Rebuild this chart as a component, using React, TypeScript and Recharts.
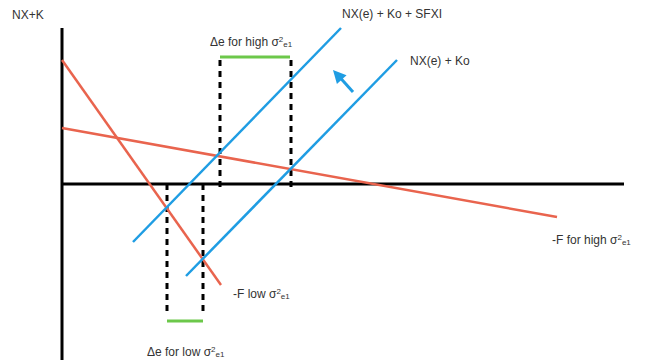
import { ComposedChart, Line, Scatter, XAxis, YAxis, ReferenceLine } from 'recharts'

// units: e on the x axis, NX+K on the y axis, origin where the axes cross
const fLow = [
  { x: 0, y: 12.4 },
  { x: 15.9, y: -10.1 },
]
const fHigh = [
  { x: 0, y: 5.6 },
  { x: 49.5, y: -3.3 },
]
const nxKoSfxi = [
  { x: 7.1, y: -5.8 },
  { x: 27.9, y: 15.6 },
]
const nxKo = [
  { x: 12.4, y: -9.2 },
  { x: 33.5, y: 12.4 },
]
const shiftArrow = [
  { x: 29.1, y: 9.2 },
  { x: 27.4, y: 11.1 },
]
const arrowTip = [{ x: 27.1, y: 11.4 }]

// dashed drop lines at the intersections
const lowDrops = [10.5, 14.1]
const highDrops = [15.8, 22.9]
const lowDropRange = [0, -12.8]
const highDropRange = [12.4, -0.6]

// green Δe bars
const lowBar = { x1: 10.5, x2: 14.1, y: -13.7 }
const highBar = { x1: 15.8, x2: 22.8, y: 12.7 }

const labels = [
  { x: -5.0, y: 16.5, text: 'NX+K' },
  { x: 14.8, y: 13.8, text: 'Δe for high σ', sup: '2', sub: 'e1' },
  { x: 28.0, y: 16.6, text: 'NX(e) + Ko + SFXI' },
  { x: 34.8, y: 11.9, text: 'NX(e) + Ko' },
  { x: 17.1, y: -11.4, text: '-F low σ', sup: '2', sub: 'e1' },
  { x: 49.0, y: -6.0, text: '-F for high σ', sup: '2', sub: 'e1' },
  { x: 8.5, y: -17.2, text: 'Δe for low σ', sup: '2', sub: 'e1' },
]

const RED = '#e9644e'
const BLUE = '#1f9de3'
const GREEN = '#6cc84a'
const FONT = '"Liberation Sans", Arial, Helvetica, sans-serif'

const arrowAngle = Math.atan2(
  -(arrowTip[0].y - shiftArrow[0].y),
  arrowTip[0].x - shiftArrow[0].x
)

function ArrowHead(props: any) {
  const { cx, cy } = props
  const len = 13
  const half = 6.5
  const ux = Math.cos(arrowAngle)
  const uy = Math.sin(arrowAngle)
  const bx = cx - ux * len
  const by = cy - uy * len
  const pts = [
    [cx, cy],
    [bx - uy * half, by + ux * half],
    [bx + uy * half, by - ux * half],
  ]
  return <polygon points={pts.map((p) => p.join(',')).join(' ')} fill={BLUE} />
}

function LabelText(props: any) {
  const { cx, cy, payload } = props
  return (
    <text x={cx} y={cy} fontSize={12} fontFamily={FONT} fill="#333">
      <tspan>{payload.text}</tspan>
      {payload.sup && (
        <tspan fontSize={8} dy={-4}>
          {payload.sup}
        </tspan>
      )}
      {payload.sub && (
        <tspan fontSize={8} dy={5}>
          {payload.sub}
        </tspan>
      )}
    </text>
  )
}

export default function App() {
  return (
    <div style={{ position: 'absolute', left: 0, top: 0, width: 645, height: 360, background: '#fff' }}>
      <ComposedChart width={645} height={360} margin={{ top: 0, right: 0, bottom: 0, left: 0 }}>
        <XAxis type="number" dataKey="x" domain={[-6.2, 58.3]} hide allowDataOverflow />
        <YAxis type="number" dataKey="y" domain={[-17.6, 18.4]} hide allowDataOverflow />

        <ReferenceLine
          segment={[{ x: 0, y: 15.6 }, { x: 0, y: -17.6 }]}
          stroke="#000"
          strokeWidth={3}
          ifOverflow="visible"
        />
        <ReferenceLine
          segment={[{ x: 0, y: 0 }, { x: 56.2, y: 0 }]}
          stroke="#000"
          strokeWidth={3}
          ifOverflow="visible"
        />

        {lowDrops.map((x) => (
          <ReferenceLine
            key={'l' + x}
            segment={[{ x, y: lowDropRange[0] }, { x, y: lowDropRange[1] }]}
            stroke="#000"
            strokeWidth={3}
            strokeDasharray="6 5"
            ifOverflow="visible"
          />
        ))}
        {highDrops.map((x) => (
          <ReferenceLine
            key={'h' + x}
            segment={[{ x, y: highDropRange[0] }, { x, y: highDropRange[1] }]}
            stroke="#000"
            strokeWidth={3}
            strokeDasharray="6 5"
            ifOverflow="visible"
          />
        ))}

        <ReferenceLine
          segment={[{ x: lowBar.x1, y: lowBar.y }, { x: lowBar.x2, y: lowBar.y }]}
          stroke={GREEN}
          strokeWidth={3}
          ifOverflow="visible"
        />
        <ReferenceLine
          segment={[{ x: highBar.x1, y: highBar.y }, { x: highBar.x2, y: highBar.y }]}
          stroke={GREEN}
          strokeWidth={3}
          ifOverflow="visible"
        />

        <Line data={fLow} dataKey="y" stroke={RED} strokeWidth={2.5} dot={false} activeDot={false} isAnimationActive={false} />
        <Line data={fHigh} dataKey="y" stroke={RED} strokeWidth={2.5} dot={false} activeDot={false} isAnimationActive={false} />
        <Line data={nxKoSfxi} dataKey="y" stroke={BLUE} strokeWidth={2.5} dot={false} activeDot={false} isAnimationActive={false} />
        <Line data={nxKo} dataKey="y" stroke={BLUE} strokeWidth={2.5} dot={false} activeDot={false} isAnimationActive={false} />
        <Line data={shiftArrow} dataKey="y" stroke={BLUE} strokeWidth={3} dot={false} activeDot={false} isAnimationActive={false} />
        <Scatter data={arrowTip} dataKey="y" shape={ArrowHead} isAnimationActive={false} />
        <Scatter data={labels} dataKey="y" shape={LabelText} isAnimationActive={false} />
      </ComposedChart>
    </div>
  )
}
